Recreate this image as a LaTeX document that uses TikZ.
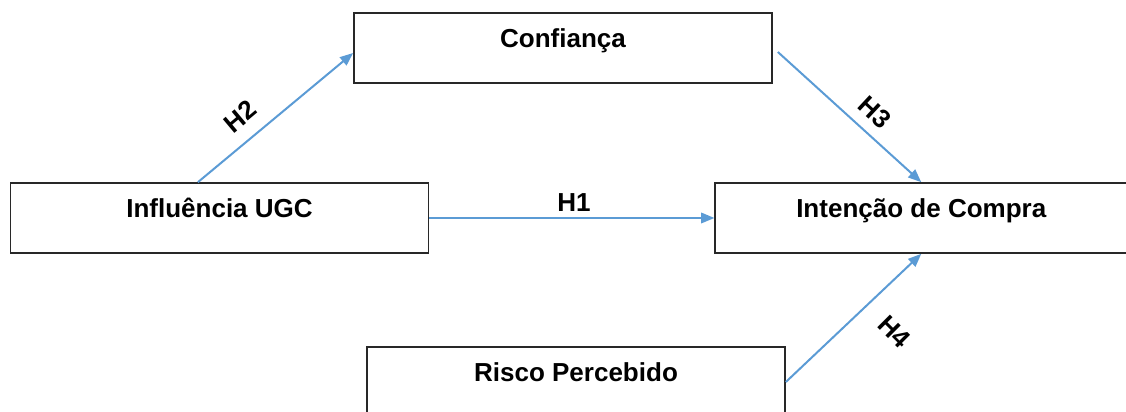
\documentclass[tikz,border=0pt]{standalone}
\usepackage{fontspec}
\setmainfont{Liberation Sans}
\usepackage{tikz}
\usetikzlibrary{arrows.meta,positioning}

\definecolor{azul}{RGB}{91,155,213}
\definecolor{borda}{RGB}{40,40,40}

\begin{document}
\begin{tikzpicture}[x=0.025cm, y=-0.025cm, node distance=7.125cm,
	font=\fontsize{18.5}{22}\selectfont\bfseries]
		\tikzstyle{caixa} = [draw=borda, line width=0.04cm, rectangle, minimum width=10.45cm, minimum height=1.75cm, inner sep=0pt, text height=0.45cm, text depth=0.47cm]
		\tikzstyle{seta} = [azul, line width=0.05cm, -{Triangle[length=0.33cm, width=0.26cm]}]
		\tikzstyle{rotulo} = [text=black, inner sep=1pt]

		\useasboundingbox (0,0) rectangle (1126,412);
		\clip (0,0) rectangle (1126,412);

		\node[caixa] (ugc) at (219.5,218) {Influência UGC};
		\node[caixa, right=of ugc, minimum width=10.3cm] (compra) {Intenção de Compra};
		\node[caixa] (conf) at (563,48) {Confiança};
		\node[caixa] (risco) at (576,382) {Risco Percebido};

		% hipoteses
		\draw[seta] ([xshift=-0.54cm]ugc.north) -- ([yshift=-0.125cm]conf.west)
			node[rotulo, pos=.37, shift={(-15,-18)}, rotate=40] (h2) {H2};
		\draw[seta] ([xshift=0.125cm, yshift=-0.1cm]conf.east) -- (compra.north)
			node[rotulo, pos=.58, shift={(14,-15)}, rotate=-43] (h3) {H3};
		\draw[seta] (ugc.east) -- (compra.west)
			node[rotulo, midway, shift={(2,-15)}] (h1) {H1};
		\draw[seta] (risco.east) -- (compra.south)
			node[rotulo, pos=.6, shift={(27,27)}, rotate=-45] (h4) {H4};
\end{tikzpicture}
\end{document}
